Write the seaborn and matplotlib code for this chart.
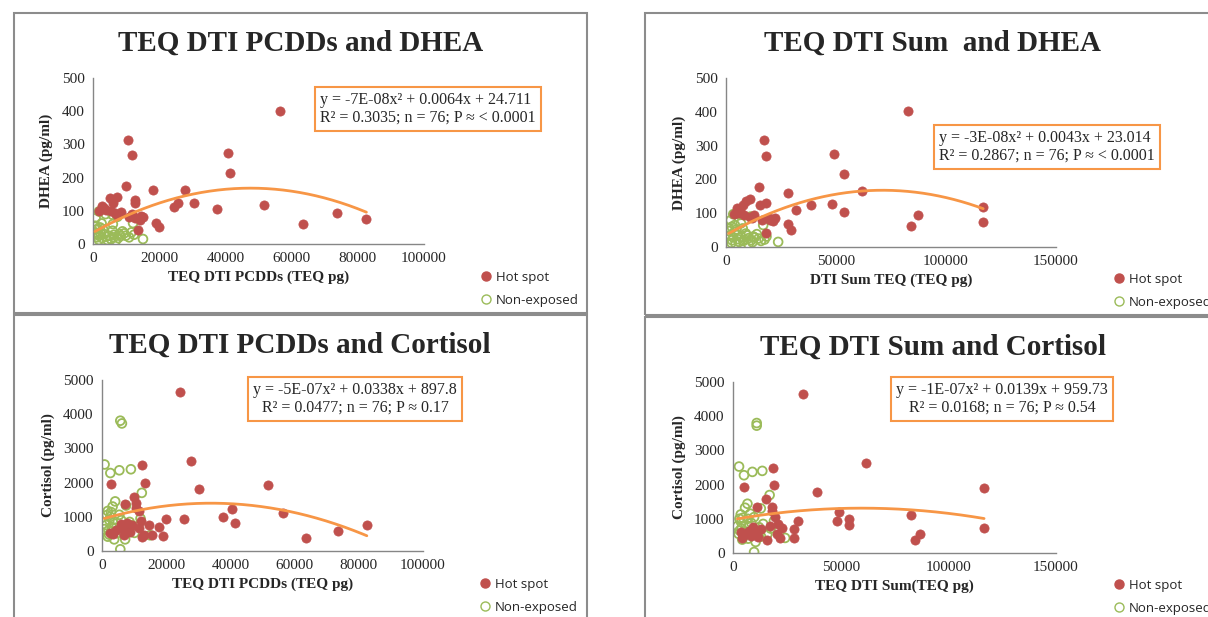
import matplotlib
matplotlib.use('Agg')
import matplotlib.pyplot as plt
from matplotlib.patches import Rectangle
from matplotlib.lines import Line2D
import numpy as np
import pandas as pd
import seaborn as sns

# ---- TEQ DTI PCDDs vs DHEA ----
pcdd_dhea_hot_x = [56400, 10600, 11900, 40700, 41500, 9900, 18000, 27700, 5000, 7100, 5900, 12700, 12700,
                   25600, 24500, 30500, 37600, 51700, 2600, 3800, 73600, 82600, 63500, 19100, 20000, 11900,
                   14400, 14100, 13700, 5300, 10900, 1800, 7300, 12800, 6500, 3200, 8500, 15000]
pcdd_dhea_hot_y = [402, 314, 267, 275, 215, 176, 162, 164, 138, 142, 125, 132, 122,
                   125, 110, 122, 104, 118, 113, 103, 93, 75, 61, 64, 50, 90,
                   85, 72, 42, 100, 82, 98, 88, 78, 92, 108, 95, 80]
pcdd_dhea_non_x = [800, 1800, 3800, 5900, 7400, 2600, 12100, 1300, 8900, 1800, 3300, 4800, 6400, 7900, 9900,
                   10900, 12400, 15100, 1800, 4300, 6900, 2800, 600, 5900, 3000, 4000, 5400, 7600, 8300,
                   1200, 2300, 6200, 9400, 11600, 700, 2100, 1500, 6000]
pcdd_dhea_non_y = [78, 98, 90, 88, 82, 62, 63, 45, 38, 25, 30, 25, 28, 30, 25,
                   20, 28, 15, 12, 12, 10, 18, 35, 40, 45, 22, 15, 18, 24,
                   20, 32, 20, 32, 35, 55, 50, 30, 60]

# ---- DTI Sum TEQ vs DHEA ----
sum_dhea_hot_x = [82600, 17200, 18000, 49100, 53600, 14800, 28200, 61800, 10900, 9100, 7900, 15400, 18000,
                  4800, 6300, 38700, 48300, 32000, 53800, 116900, 116900, 87100, 84300, 28200, 29700, 18400,
                  20200, 22200, 21400, 10900, 3800, 12500, 19500, 16500, 6000, 8200, 4500, 11800]
sum_dhea_hot_y = [403, 316, 268, 275, 215, 178, 161, 166, 141, 136, 125, 125, 131,
                  114, 109, 125, 126, 110, 105, 119, 75, 94, 62, 67, 49, 42,
                  79, 87, 77, 89, 97, 95, 85, 80, 100, 96, 102, 85]
sum_dhea_non_x = [2100, 3300, 6300, 11200, 6800, 16900, 1500, 4800, 18400, 23700, 3300, 5500, 7900, 10200,
                  12400, 14000, 15900, 2500, 10200, 4300, 7000, 9000, 2600, 5000, 8500, 11500, 13000, 17500,
                  1800, 3900, 6000, 12000, 9300, 4000, 2800, 7600, 14800, 1200]
sum_dhea_non_y = [79, 97, 95, 90, 70, 65, 47, 52, 31, 15, 28, 23, 18, 26,
                  31, 38, 18, 12, 8, 10, 30, 40, 60, 35, 22, 20, 28, 22,
                  35, 45, 15, 14, 35, 65, 20, 55, 25, 55]

# ---- TEQ DTI PCDDs vs Cortisol ----
pcdd_cort_hot_x = [24400, 27700, 12500, 13500, 2800, 30300, 51700, 9900, 10600, 7200, 11400, 40500, 56500,
                   37600, 41400, 25700, 20000, 14600, 17900, 82500, 73600, 63600, 19100, 12500, 11400, 5900,
                   6400, 3300, 10500, 12000, 8800, 4500, 2500, 7800, 13200, 15500, 9500, 6800]
pcdd_cort_hot_y = [4640, 2620, 2510, 2000, 1945, 1810, 1925, 1580, 1270, 1370, 1170, 1220, 1120,
                   1000, 830, 950, 950, 760, 710, 750, 580, 390, 430, 410, 680, 780,
                   655, 490, 1400, 880, 560, 600, 520, 820, 470, 480, 760, 470]
pcdd_cort_non_x = [5700, 6200, 800, 2600, 5400, 9000, 12400, 4100, 3300, 7500, 1800, 2800, 5400, 12000,
                   1300, 700, 4400, 7500, 8000, 10100, 1800, 3800, 7200, 15000, 5700, 2300, 3500, 2000,
                   6000, 9200, 1500, 4800, 3000, 6500, 11200, 2200, 8600, 2600]
pcdd_cort_non_y = [3810, 3730, 2530, 2280, 2360, 2390, 1700, 1450, 1300, 1330, 1170, 1140, 1060, 950,
                   760, 640, 680, 700, 640, 530, 420, 340, 340, 460, 50, 900, 820, 600,
                   900, 750, 1050, 520, 700, 560, 720, 480, 850, 1000]

# ---- TEQ DTI Sum vs Cortisol ----
sum_cort_hot_x = [32500, 61600, 18600, 19000, 5300, 38900, 116600, 15200, 18000, 11300, 18300, 49200, 82500,
                  48500, 53900, 53900, 30000, 28300, 22900, 21000, 116600, 86800, 84400, 28300, 21800, 16000,
                  10500, 7400, 4300, 19500, 13000, 8500, 6000, 17000, 20500, 11500, 3500, 9300]
sum_cort_hot_y = [4635, 2617, 2500, 1990, 1930, 1793, 1911, 1568, 1352, 1343, 1225, 1205, 1107,
                  931, 990, 833, 931, 715, 735, 853, 735, 568, 372, 441, 441, 392,
                  637, 657, 441, 1050, 700, 500, 560, 780, 560, 470, 600, 760]
sum_cort_non_x = [11000, 11000, 2800, 5100, 9000, 13600, 17000, 6700, 5600, 12900, 3600, 4600, 9800, 19000,
                  2000, 3100, 7400, 12100, 17500, 15900, 4300, 10500, 24200, 9800, 3800, 6200, 8500, 5000,
                  2600, 7000, 11500, 14000, 8000, 4000, 6800, 13000, 3000, 9500]
sum_cort_non_y = [3800, 3724, 2528, 2274, 2372, 2401, 1695, 1440, 1323, 1303, 1127, 1029, 1049, 931,
                  784, 657, 784, 754, 715, 539, 392, 323, 441, 29, 900, 620, 880, 500,
                  560, 420, 600, 850, 1150, 720, 1000, 480, 1000, 680]

titles = ['TEQ DTI PCDDs and DHEA', 'TEQ DTI Sum  and DHEA',
          'TEQ DTI PCDDs and Cortisol', 'TEQ DTI Sum and Cortisol']
xlabels = ['TEQ DTI PCDDs (TEQ pg)', 'DTI Sum TEQ (TEQ pg)',
           'TEQ DTI PCDDs (TEQ pg)', 'TEQ DTI Sum(TEQ pg)']
ylabels = ['DHEA (pg/ml)', 'DHEA (pg/ml)', 'Cortisol (pg/ml)', 'Cortisol (pg/ml)']
equations = ['y = -7E-08x\u00b2 + 0.0064x + 24.711\nR\u00b2 = 0.3035; n = 76; P \u2248 < 0.0001',
             'y = -3E-08x\u00b2 + 0.0043x + 23.014\nR\u00b2 = 0.2867; n = 76; P \u2248 < 0.0001',
             'y = -5E-07x\u00b2 + 0.0338x + 897.8\nR\u00b2 = 0.0477; n = 76; P \u2248 0.17',
             'y = -1E-07x\u00b2 + 0.0139x + 959.73\nR\u00b2 = 0.0168; n = 76; P \u2248 0.54']
legend_labels = ['Hot spot', 'Non-exposed']

HOT = '#C0504D'
NON = '#9BBB59'
TREND = '#F79646'
AXIS = '#868686'
W, H = 1208, 617

sns.set_style('white')
plt.rcParams['font.family'] = ['Liberation Serif', 'DejaVu Serif']


def fx(px):
    return px / W


def fy(py):
    return 1 - py / H


def make_df(hx, hy, nx, ny):
    return pd.DataFrame({'x': hx + nx, 'y': hy + ny,
                         'group': [legend_labels[0]] * len(hx) + [legend_labels[1]] * len(nx)})


frames = [make_df(pcdd_dhea_hot_x, pcdd_dhea_hot_y, pcdd_dhea_non_x, pcdd_dhea_non_y),
          make_df(sum_dhea_hot_x, sum_dhea_hot_y, sum_dhea_non_x, sum_dhea_non_y),
          make_df(pcdd_cort_hot_x, pcdd_cort_hot_y, pcdd_cort_non_x, pcdd_cort_non_y),
          make_df(sum_cort_hot_x, sum_cort_hot_y, sum_cort_non_x, sum_cort_non_y)]

# layout in pixels: axes (x of origin, x of xmax, y of 0, y of ymax)
axes_px = [(93, 424, 244, 78), (726, 1056, 247, 78), (102, 423, 551, 380), (733, 1056, 553, 382)]
limits = [(100000, 20000, 500, 100), (150000, 50000, 500, 100),
          (100000, 20000, 5000, 1000), (150000, 50000, 5000, 1000)]
title_px = [(301, 43), (933, 43), (300, 345), (933, 347)]
eq_px = [(428, 109, 'left'), (1047, 147, 'left'), (355, 399, 'center'), (1002, 399, 'center')]
legend_px = [(481, 289), (1114, 291), (480, 596), (1114, 597)]
panels_px = [(14, 13, 587, 313), (645, 13, 1215, 315), (14, 315, 587, 625), (645, 317, 1215, 625)]

fig = plt.figure(figsize=(W / 100, H / 100), dpi=100)

for x0, y0, x1, y1 in panels_px:
    fig.add_artist(Rectangle((fx(x0), fy(y1)), fx(x1) - fx(x0), fy(y0) - fy(y1),
                             transform=fig.transFigure, fill=False, ec='#8c8c8c', lw=1.5))

for i, df in enumerate(frames):
    px0, px1, py0, py1 = axes_px[i]
    ax = fig.add_axes([fx(px0), fy(py0), fx(px1) - fx(px0), fy(py1) - fy(py0)])
    hot = df[df['group'] == legend_labels[0]]
    non = df[df['group'] == legend_labels[1]]
    sns.scatterplot(data=non, x='x', y='y', ax=ax, facecolor='none', edgecolor=NON,
                    s=40, linewidth=1.3, zorder=2)
    sns.scatterplot(data=hot, x='x', y='y', ax=ax, color=HOT, edgecolor=HOT,
                    s=44, linewidth=0.5, zorder=3)

    # second order polynomial trend line on all 76 points
    coef = np.polyfit(df['x'], df['y'], 2)
    xs = np.linspace(df['x'].min(), df['x'].max(), 200)
    sns.lineplot(x=xs, y=np.polyval(coef, xs), ax=ax, color=TREND, lw=2, zorder=4)

    xmax, xstep, ymax, ystep = limits[i]
    ax.set_xlim(0, xmax)
    ax.set_ylim(0, ymax)
    ax.set_xticks(np.arange(0, xmax + 1, xstep))
    ax.set_yticks(np.arange(0, ymax + 1, ystep))
    ax.set_xlabel(xlabels[i], fontsize=11, fontweight='bold', labelpad=4)
    ax.set_ylabel(ylabels[i], fontsize=11, fontweight='bold', labelpad=6)
    ax.tick_params(direction='out', length=4, width=1, color=AXIS, labelsize=11, pad=2)
    for side in ['top', 'right']:
        ax.spines[side].set_visible(False)
    for side in ['left', 'bottom']:
        ax.spines[side].set_color(AXIS)
        ax.spines[side].set_linewidth(1)

    tx, ty = title_px[i]
    fig.text(fx(tx), fy(ty), titles[i], ha='center', va='center', fontsize=21, fontweight='bold')

    ex, ey, al = eq_px[i]
    fig.text(fx(ex), fy(ey), equations[i], ha='center', va='center', multialignment=al,
             fontsize=11.5, linespacing=1.15,
             bbox=dict(boxstyle='square,pad=0.3', fc='white', ec=TREND, lw=1.5))

    handles = [Line2D([], [], ls='none', marker='o', ms=6.5, mfc=HOT, mec=HOT),
               Line2D([], [], ls='none', marker='o', ms=6.5, mfc='none', mec=NON, mew=1)]
    lx, ly = legend_px[i]
    ax.legend(handles, legend_labels, loc='center left', bbox_to_anchor=(fx(lx), fy(ly)),
              bbox_transform=fig.transFigure, frameon=False, borderpad=0, borderaxespad=0,
              handlelength=0.8, handletextpad=0.3, labelspacing=0.75,
              prop={'family': 'Open Sans', 'size': 9.5})

fig.savefig('out.png', dpi=100)
